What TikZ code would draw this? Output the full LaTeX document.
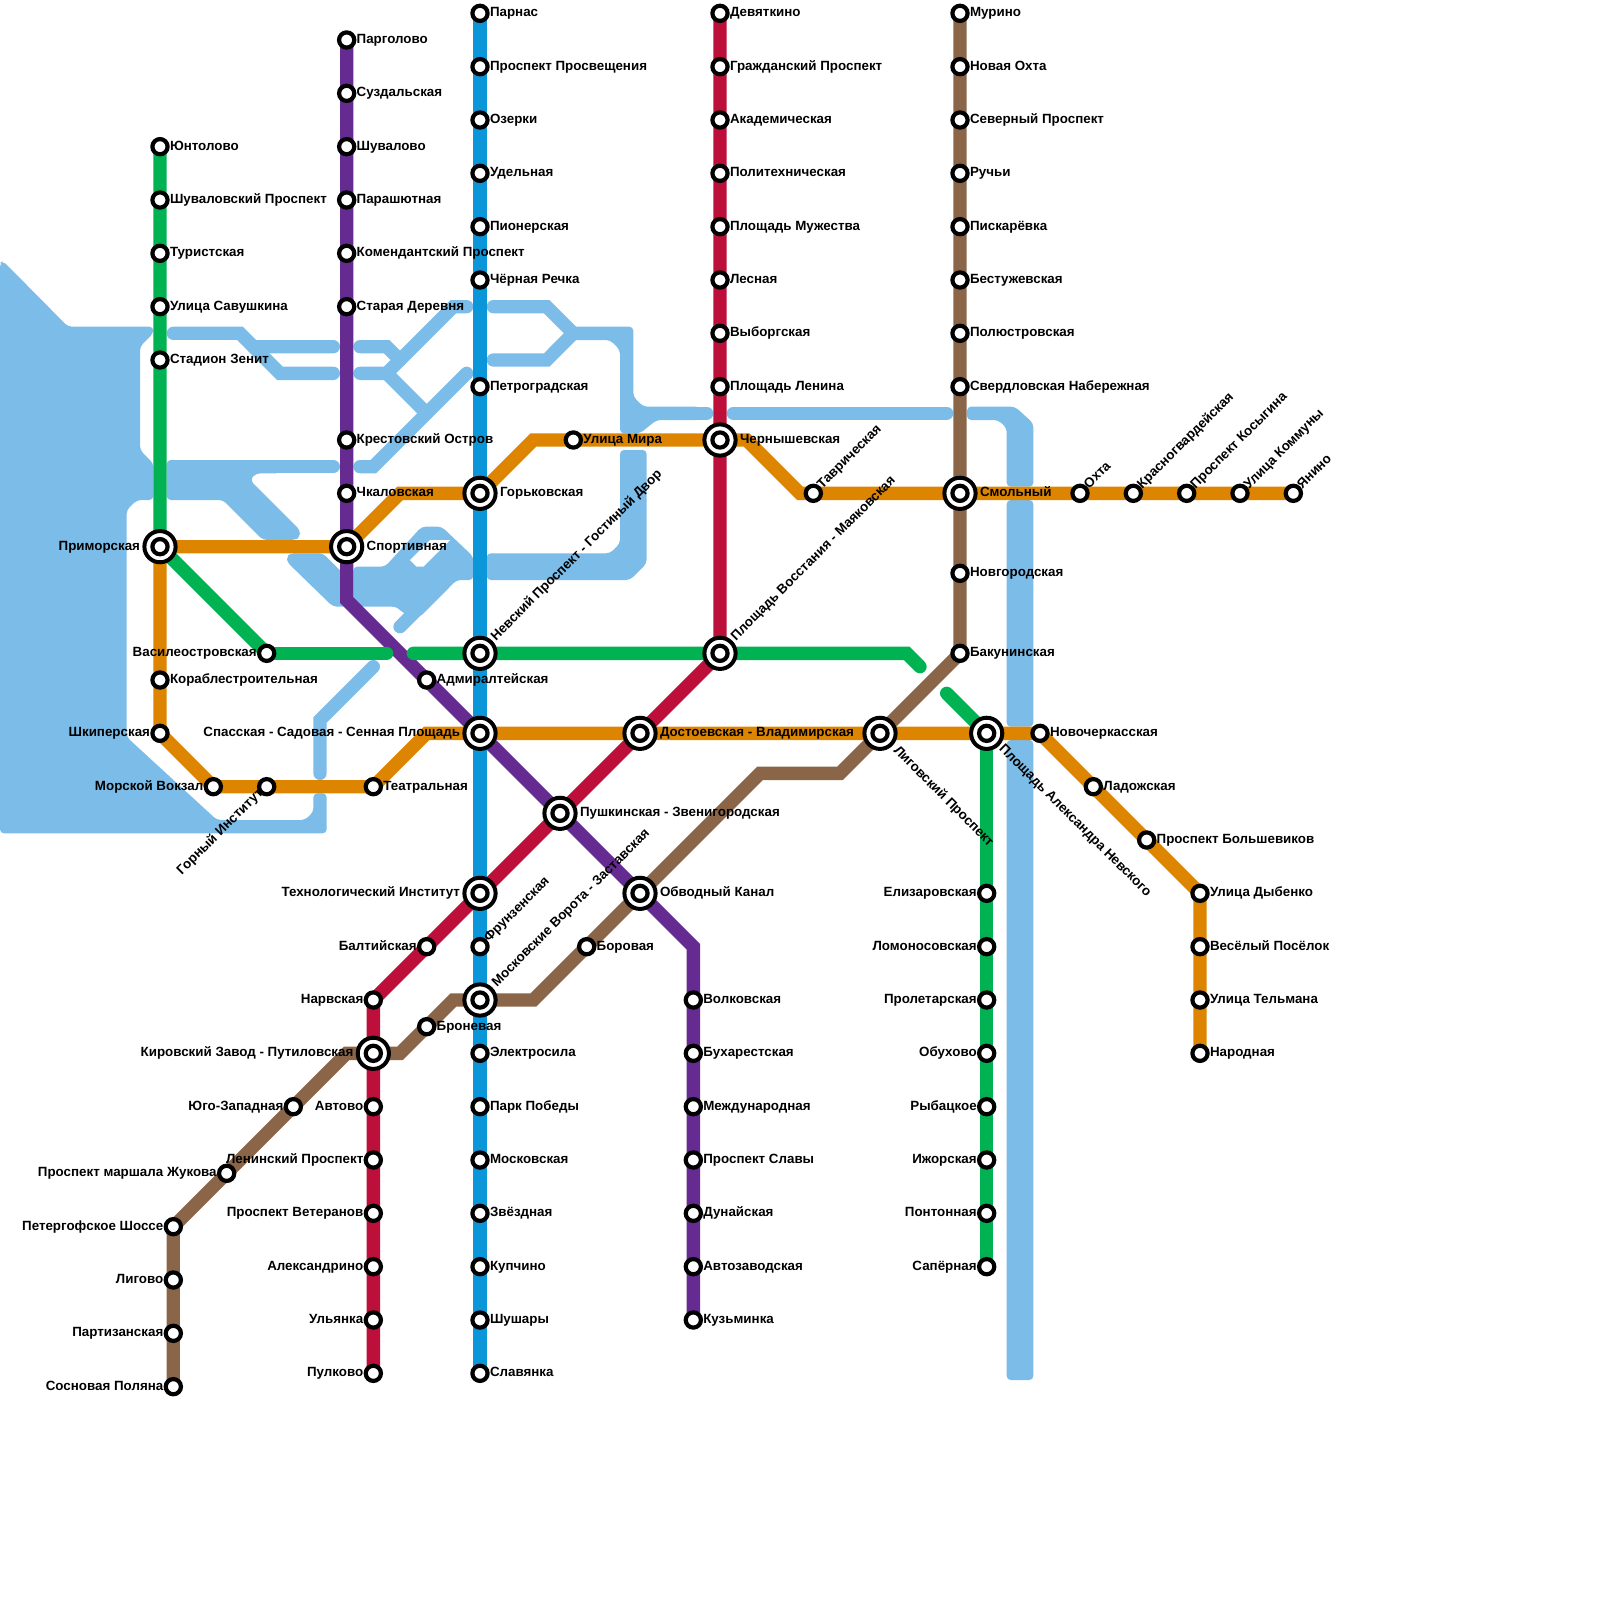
\documentclass[tikz,border=0pt]{standalone}
\usepackage{fontspec}
\setmainfont{Liberation Sans}
\definecolor{cRiver}{HTML}{7BBCE8}
\definecolor{cGreen}{HTML}{00B251}
\definecolor{cOrange}{HTML}{DD8400}
\definecolor{cPurple}{HTML}{652B91}
\definecolor{cBlue}{HTML}{0A96D8}
\definecolor{cRed}{HTML}{BC0F3A}
\definecolor{cBrown}{HTML}{8B6548}
\pgfdeclarelayer{bg}
\pgfsetlayers{bg,main}
\tikzset{
  lbl/.style={font=\fontsize{6.68pt}{8pt}\selectfont\bfseries,inner sep=0pt,outer sep=0pt,text=black},
  stn/.style={circle,draw=black,fill=white,line width=2.1pt,minimum size=7.6pt,inner sep=0pt},
  stnbig/.style={circle,draw=black,fill=white,line width=2pt,minimum size=15.6pt,inner sep=0pt},
  metro/.style={line width=6.667pt,line cap=butt,line join=miter},
  metroend/.style={metro,line cap=round},
  riverline/.style={draw=cRiver,line width=6.667pt,line cap=round,line join=miter},
  riverfill/.style={fill=cRiver,rounded corners=2pt}
}
% single stations
\newcommand{\StR}[4]{\node[stn] (#1) at (#2,#3) {}; \node[lbl,anchor=base west] (#1t) at (#2+10,#3+3.5) {#4};}
\newcommand{\StL}[4]{\node[stn] (#1) at (#2,#3) {}; \node[lbl,anchor=base east] (#1t) at (#2-10,#3+3.5) {#4};}
% double stations
\newcommand{\DbR}[4]{\node[stnbig] (#1o) at (#2,#3) {}; \node[stn] (#1) at (#2,#3) {}; \node[lbl,anchor=base west] (#1t) at (#2+20,#3+3.5) {#4};}
\newcommand{\DbL}[4]{\node[stnbig] (#1o) at (#2,#3) {}; \node[stn] (#1) at (#2,#3) {}; \node[lbl,anchor=base east] (#1t) at (#2-20,#3+3.5) {#4};}
% rotated labels: id,x,y,angle,dx,dy,anchor,text
\newcommand{\StA}[8]{\node[stn] (#1) at (#2,#3) {}; \node[lbl,rotate=#4,anchor=#7] (#1t) at (#2+#5,#3+#6) {#8};}
\newcommand{\DbA}[8]{\node[stnbig] (#1o) at (#2,#3) {}; \node[stn] (#1) at (#2,#3) {}; \node[lbl,rotate=#4,anchor=#7] (#1t) at (#2+#5,#3+#6) {#8};}
\begin{document}
\begin{tikzpicture}[x=0.5pt,y=-0.5pt]
\useasboundingbox (0,0) rectangle (1600,1600);

% ---- stations: green north
\StR{gA}{160}{146.67}{Юнтолово}
\StR{gB}{160}{200}{Шуваловский Проспект}
\StR{gC}{160}{253.33}{Туристская}
\StR{gD}{160}{306.67}{Улица Савушкина}
\StR{gE}{160}{360}{Стадион Зенит}
\DbL{xPrim}{160}{546.67}{Приморская}
\StL{gF}{266.67}{653.33}{Василеостровская}
% green south
\StL{gS1}{986.67}{893.33}{Елизаровская}
\StL{gS2}{986.67}{946.67}{Ломоносовская}
\StL{gS3}{986.67}{1000}{Пролетарская}
\StL{gS4}{986.67}{1053.33}{Обухово}
\StL{gS5}{986.67}{1106.67}{Рыбацкое}
\StL{gS6}{986.67}{1160}{Ижорская}
\StL{gS7}{986.67}{1213.33}{Понтонная}
\StL{gS8}{986.67}{1266.67}{Сапёрная}
\DbA{xNevsky}{480}{653.33}{45}{16}{-12}{base west}{Невский Проспект - Гостиный Двор}
\DbA{xVosst}{720}{653.33}{45}{16}{-12}{base west}{Площадь Восстания - Маяковская}
\DbA{xAlex}{986.67}{733.33}{-45}{12}{16}{base west}{Площадь Александра Невского}

% purple
\StR{pA}{346.67}{40}{Парголово}
\StR{pB}{346.67}{93.33}{Суздальская}
\StR{pC}{346.67}{146.67}{Шувалово}
\StR{pD}{346.67}{200}{Парашютная}
\StR{pE}{346.67}{253.33}{Комендантский Проспект}
\StR{pF}{346.67}{306.67}{Старая Деревня}
\StR{pG}{346.67}{440}{Крестовский Остров}
\StR{pH}{346.67}{493.33}{Чкаловская}
\DbR{xSport}{346.67}{546.67}{Спортивная}
\StR{pI}{426.67}{680}{Адмиралтейская}
\DbL{xSad}{480}{733.33}{Спасская - Садовая - Сенная Площадь}
\DbR{xPush}{560}{813.33}{Пушкинская - Звенигородская}
\DbR{xObv}{640}{893.33}{Обводный Канал}
\StR{pJ}{693.33}{1000}{Волковская}
\StR{pK}{693.33}{1053.33}{Бухарестская}
\StR{pL}{693.33}{1106.67}{Международная}
\StR{pM}{693.33}{1160}{Проспект Славы}
\StR{pN}{693.33}{1213.33}{Дунайская}
\StR{pO}{693.33}{1266.67}{Автозаводская}
\StR{pP}{693.33}{1320}{Кузьминка}

% blue
\StR{bA}{480}{13.33}{Парнас}
\StR{bB}{480}{66.67}{Проспект Просвещения}
\StR{bC}{480}{120}{Озерки}
\StR{bD}{480}{173.33}{Удельная}
\StR{bE}{480}{226.67}{Пионерская}
\StR{bF}{480}{280}{Чёрная Речка}
\StR{bG}{480}{386.67}{Петроградская}
\DbR{xGork}{480}{493.33}{Горьковская}
\DbL{xTech}{480}{893.33}{Технологический Институт}
\StA{bH}{480}{946.67}{45}{9}{-4}{base west}{Фрунзенская}
\DbA{xMosk}{480}{1000}{45}{17}{-13}{base west}{Московские Ворота - Заставская}
\StR{bI}{480}{1053.33}{Электросила}
\StR{bJ}{480}{1106.67}{Парк Победы}
\StR{bK}{480}{1160}{Московская}
\StR{bL}{480}{1213.33}{Звёздная}
\StR{bM}{480}{1266.67}{Купчино}
\StR{bN}{480}{1320}{Шушары}
\StR{bO}{480}{1373.33}{Славянка}

% red
\StR{rA}{720}{13.33}{Девяткино}
\StR{rB}{720}{66.67}{Гражданский Проспект}
\StR{rC}{720}{120}{Академическая}
\StR{rD}{720}{173.33}{Политехническая}
\StR{rE}{720}{226.67}{Площадь Мужества}
\StR{rF}{720}{280}{Лесная}
\StR{rG}{720}{333.33}{Выборгская}
\StR{rH}{720}{386.67}{Площадь Ленина}
\DbR{xChern}{720}{440}{Чернышевская}
\DbR{xDost}{640}{733.33}{Достоевская - Владимирская}
\StL{rI}{426.67}{946.67}{Балтийская}
\StL{rJ}{373.33}{1000}{Нарвская}
\DbL{xKir}{373.33}{1053.33}{Кировский Завод - Путиловская}
\StL{rK}{373.33}{1106.67}{Автово}
\StL{rL}{373.33}{1160}{Ленинский Проспект}
\StL{rM}{373.33}{1213.33}{Проспект Ветеранов}
\StL{rN}{373.33}{1266.67}{Александрино}
\StL{rO}{373.33}{1320}{Ульянка}
\StL{rP}{373.33}{1373.33}{Пулково}

% brown
\StR{nA}{960}{13.33}{Мурино}
\StR{nB}{960}{66.67}{Новая Охта}
\StR{nC}{960}{120}{Северный Проспект}
\StR{nD}{960}{173.33}{Ручьи}
\StR{nE}{960}{226.67}{Пискарёвка}
\StR{nF}{960}{280}{Бестужевская}
\StR{nG}{960}{333.33}{Полюстровская}
\StR{nH}{960}{386.67}{Свердловская Набережная}
\DbR{xSmol}{960}{493.33}{Смольный}
\StR{nI}{960}{573.33}{Новгородская}
\StR{nJ}{960}{653.33}{Бакунинская}
\DbA{xLig}{880}{733.33}{-45}{13}{18}{base west}{Лиговский Проспект}
\StR{nK}{586.67}{946.67}{Боровая}
\StR{nL}{426.67}{1026.67}{Броневая}
\StL{nM}{293.33}{1106.67}{Юго-Западная}
\StL{nN}{226.67}{1173.33}{Проспект маршала Жукова}
\StL{nO}{173.33}{1226.67}{Петергофское Шоссе}
\StL{nP}{173.33}{1280}{Лигово}
\StL{nQ}{173.33}{1333.33}{Партизанская}
\StL{nR}{173.33}{1386.67}{Сосновая Поляна}

% orange
\StR{oA}{573.33}{440}{Улица Мира}
\StA{oB}{813.33}{493.33}{45}{9}{-4}{base west}{Таврическая}
\StA{oC}{1080}{493.33}{45}{9}{-4}{base west}{Охта}
\StA{oD}{1133.33}{493.33}{45}{9}{-4}{base west}{Красногвардейская}
\StA{oE}{1186.67}{493.33}{45}{9}{-4}{base west}{Проспект Косыгина}
\StA{oF}{1240}{493.33}{45}{9}{-4}{base west}{Улица Коммуны}
\StA{oG}{1293.33}{493.33}{45}{9}{-4}{base west}{Янино}
\StR{oH}{160}{680}{Кораблестроительная}
\StL{oI}{160}{733.33}{Шкиперская}
\StL{oJ}{213.33}{786.67}{Морской Вокзал}
\StA{oK}{266.67}{786.67}{45}{-3}{7}{base east}{Горный Институт}
\StR{oL}{373.33}{786.67}{Театральная}
\StR{oM}{1040}{733.33}{Новочеркасская}
\StR{oN}{1093.33}{786.67}{Ладожская}
\StR{oO}{1146.67}{840}{Проспект Большевиков}
\StR{oP}{1200}{893.33}{Улица Дыбенко}
\StR{oQ}{1200}{946.67}{Весёлый Посёлок}
\StR{oR}{1200}{1000}{Улица Тельмана}
\StR{oS}{1200}{1053.33}{Народная}

% bends
\coordinate (gBendA) at (386.67,653.33);
\coordinate (gBendB) at (413.33,653.33);
\coordinate (gBendC) at (906.67,653.33);
\coordinate (gBendD) at (920,666.67);
\coordinate (gBendE) at (946.67,693.33);
\coordinate (pBendA) at (346.67,600);
\coordinate (pBendB) at (693.33,946.67);
\coordinate (nBendA) at (760,773.33);
\coordinate (nBendB) at (840,773.33);
\coordinate (nBendC) at (533.33,1000);
\coordinate (nBendD) at (453.33,1000);
\coordinate (nBendE) at (400,1053.33);
\coordinate (nBendF) at (346.67,1053.33);
\coordinate (oBendA) at (400,493.33);
\coordinate (oBendB) at (533.33,440);
\coordinate (oBendC) at (746.67,440);
\coordinate (oBendD) at (800,493.33);
\coordinate (oBendE) at (426.67,733.33);

\begin{pgfonlayer}{bg}
% ---- water
\fill[riverfill] (0,263) -- (3,261) -- (68,326.67) -- (153.33,326.67) -- (153.33,333.33) -- (140,346.67) -- (140,450) -- (153.33,463.33) -- (153.33,500) -- (137,500) -- (126.67,510) -- (126.67,737) -- (217,820) -- (305,820) -- (313.33,812) -- (313.33,793.33) -- (326.67,793.33) -- (326.67,833.33) -- (0,833.33) -- cycle;
\fill[riverfill] (166.67,460) -- (280,460) -- (280,473.33) -- (256,473.33) -- (250,480) -- (300,530) -- (300,537) -- (295,540) -- (263,540) -- (223,500) -- (166.67,500) -- cycle;
\draw[riverline] (173.33,466.67) -- (333.33,466.67);
\draw[riverline] (173.33,333.33) -- (240,333.33) -- (253.33,346.67) -- (333.33,346.67);
\draw[riverline] (253.33,346.67) -- (280,373.33) -- (333.33,373.33);
\draw[riverline] (360,346.67) -- (386.67,346.67) -- (400,360);
\draw[riverline] (360,373.33) -- (386.67,373.33) -- (426.67,413.33);
\draw[riverline] (386.67,373.33) -- (453.33,306.67) -- (466.67,306.67);
\draw[riverline] (466.67,373.33) -- (373.33,466.67) -- (360,466.67);
\fill[riverfill] (287,557) -- (290,553.33) -- (323,553.33) -- (346.67,577) -- (346.67,606.67) -- (333,606.67) -- (287,562) -- cycle;
\fill[riverfill] (353.33,566.67) -- (385,566.67) -- (421.67,526.67) -- (441.67,526.67) -- (473.33,556.67) -- (473.33,580) -- (456.67,580) -- (420,617) -- (403.33,613.33) -- (396.67,606.67) -- (353.33,606.67) -- cycle;
\draw[riverline] (400,626.67) -- (453.33,573.33);
\fill[white] (410,560) -- (430,540) -- (450,540) -- (423.33,566.67) -- (416.67,566.67) -- cycle;
\fill[riverfill] (486.67,553.33) -- (610,553.33) -- (620,543.33) -- (620,450) -- (646.67,450) -- (646.67,563.33) -- (630,580) -- (486.67,580) -- cycle;
\draw[riverline] (493.33,306.67) -- (546.67,306.67) -- (573.33,333.33);
\draw[riverline] (493.33,360) -- (546.67,360) -- (573.33,333.33);
\fill[riverfill] (566,326.67) -- (633.33,326.67) -- (633.33,396.67) -- (643.33,406.67) -- (700,406.67) -- (700,420) -- (656.67,420) -- (640,433.33) -- (620,433.33) -- (620,350) -- (610,340) -- (566,340) -- cycle;
\draw[riverline] (690,413.33) -- (706.67,413.33);
\draw[riverline] (733.33,413.33) -- (946.67,413.33);
\fill[riverfill] (967,406.67) -- (1015,406.67) -- (1033.33,423.33) -- (1033.33,486.67) -- (1006.67,486.67) -- (1006.67,428) -- (998,420) -- (967,420) -- cycle;
\fill[riverfill] (1006.67,500) rectangle (1033.33,726.67);
\fill[riverfill] (1006.67,740) rectangle (1033.33,1380);
\draw[riverline] (373.33,666.67) -- (320,720) -- (320,773.33);

% ---- lines
\draw[metro,cBlue] (bA.center) -- (bO.center);
\draw[metro,cPurple] (pA.center) -- (pBendA) -- (xSad.center) -- (xObv.center) -- (pBendB) -- (pP.center);
\draw[metro,cGreen] (gA.center) -- (xPrim.center) -- (gF.center);
\draw[metroend,cGreen] (gF.center) -- (gBendA);
\draw[metroend,cGreen] (gBendB) -- (xNevsky.center) -- (xVosst.center) -- (gBendC) -- (gBendD);
\draw[metroend,cGreen] (gBendE) -- (xAlex.center);
\draw[metro,cGreen] (xAlex.center) -- (gS8.center);
\draw[metro,cRed] (rA.center) -- (xVosst.center) -- (rJ.center) -- (rP.center);
\draw[metro,cBrown] (nA.center) -- (nJ.center) -- (nBendB) -- (nBendA) -- (nBendC) -- (nBendD) -- (nBendE) -- (nBendF) -- (nO.center) -- (nR.center);
\draw[metro,cOrange] (xPrim.center) -- (xSport.center) -- (oBendA) -- (xGork.center) -- (oBendB) -- (oBendC) -- (oBendD) -- (oG.center);
\draw[metro,cOrange] (xPrim.center) -- (oI.center) -- (oJ.center) -- (oL.center) -- (oBendE) -- (oM.center) -- (oP.center) -- (oS.center);
\end{pgfonlayer}
\end{tikzpicture}
\end{document}
